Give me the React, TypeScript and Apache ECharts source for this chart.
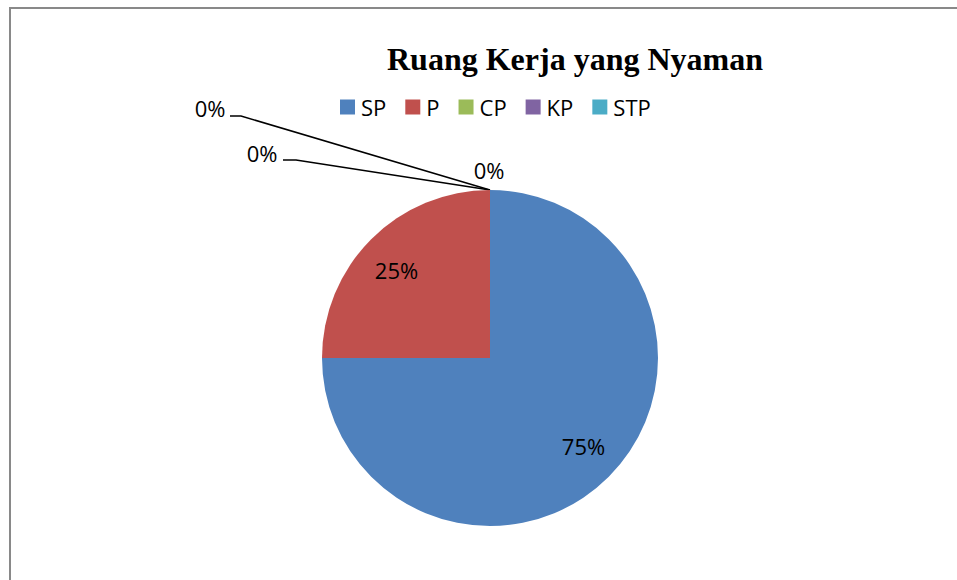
import React, { useEffect, useRef } from "react";
import * as echarts from "echarts";

const categories = ["SP", "P", "CP", "KP", "STP"];
const values = [75, 25, 0, 0, 0];
const colors = ["#4F81BD", "#C0504D", "#9BBB59", "#8064A2", "#4BACC6"];
const titleText = "Ruang Kerja yang Nyaman";

// label placement for zero-value slices (text centre + leader elbow)
const zeroLabelPos: Record<number, { x: number; y: number; elbow?: [number, number]; end?: [number, number] }> = {
  2: { x: 489, y: 170 },
  3: { x: 262, y: 153, elbow: [296, 160], end: [283, 160] },
  4: { x: 210, y: 108, elbow: [241, 116], end: [230, 116] },
};

const CX = 490;
const CY = 358;
const R = 168;

export default function App() {
  const ref = useRef<HTMLDivElement>(null);
  useEffect(() => {
    const chart = echarts.init(ref.current!, null, { renderer: "svg" });
    const font = "'Open Sans', sans-serif";
    chart.setOption({
      animation: false,
      backgroundColor: "#ffffff",
      title: {
        text: titleText,
        left: 575,
        top: 43,
        padding: 0,
        textAlign: "center",
        textStyle: {
          fontFamily: "'Liberation Serif', 'Times New Roman', serif",
          fontWeight: "bold",
          fontSize: 32,
          color: "#000",
        },
      },
      legend: {
        data: categories,
        left: 340,
        top: 96,
        padding: 0,
        icon: "rect",
        itemWidth: 15,
        itemHeight: 15,
        itemGap: 19,
        textStyle: { fontFamily: font, fontSize: 22, color: "#000", padding: [0, 0, 0, 1] },
      },
      graphic: [
        {
          type: "rect",
          shape: { x: 10, y: 8, width: 1000, height: 1000 },
          style: { fill: "none", stroke: "#898989", lineWidth: 2 },
          silent: true,
          z: -1,
        },
      ],
      series: [
        {
          type: "pie",
          center: [CX, CY],
          radius: [0, R],
          startAngle: 90,
          clockwise: true,
          percentPrecision: 0,
          avoidLabelOverlap: false,
          stillShowZeroSum: true,
          data: categories.map((c, i) => ({
            name: c,
            value: values[i],
            itemStyle: { color: colors[i] },
            label: {
              show: true,
              position: values[i] > 0 ? "inside" : "outside",
            },
            labelLine: { show: values[i] === 0 && i !== 2 },
          })),
          label: {
            formatter: "{d}%",
            fontFamily: font,
            fontSize: 22,
            color: "#000",
          },
          labelLine: {
            lineStyle: { color: "#000", width: 1.5 },
          },
          labelLayout: (params: any) => {
            const idx = params.dataIndex;
            if (values[idx] > 0) {
              const lr = params.labelRect;
              const lx = lr.x + lr.width / 2;
              const ly = lr.y + lr.height / 2;
              const kx = 1.52;
              const ky = 1.43;
              return {
                x: CX + (lx - CX) * kx,
                y: CY + (ly - CY) * ky,
                align: "center",
                verticalAlign: "middle",
              };
            }
            const p = zeroLabelPos[idx];
            const res: any = { x: p.x, y: p.y, align: "center", verticalAlign: "middle" };
            if (p.elbow && p.end) {
              res.labelLinePoints = [[CX, CY - R], p.elbow, p.end];
            }
            return res;
          },
        },
      ],
    });
    return () => chart.dispose();
  }, []);
  return (
    <div
      ref={ref}
      style={{ position: "fixed", left: 0, top: 0, width: 957, height: 580 }}
    />
  );
}
